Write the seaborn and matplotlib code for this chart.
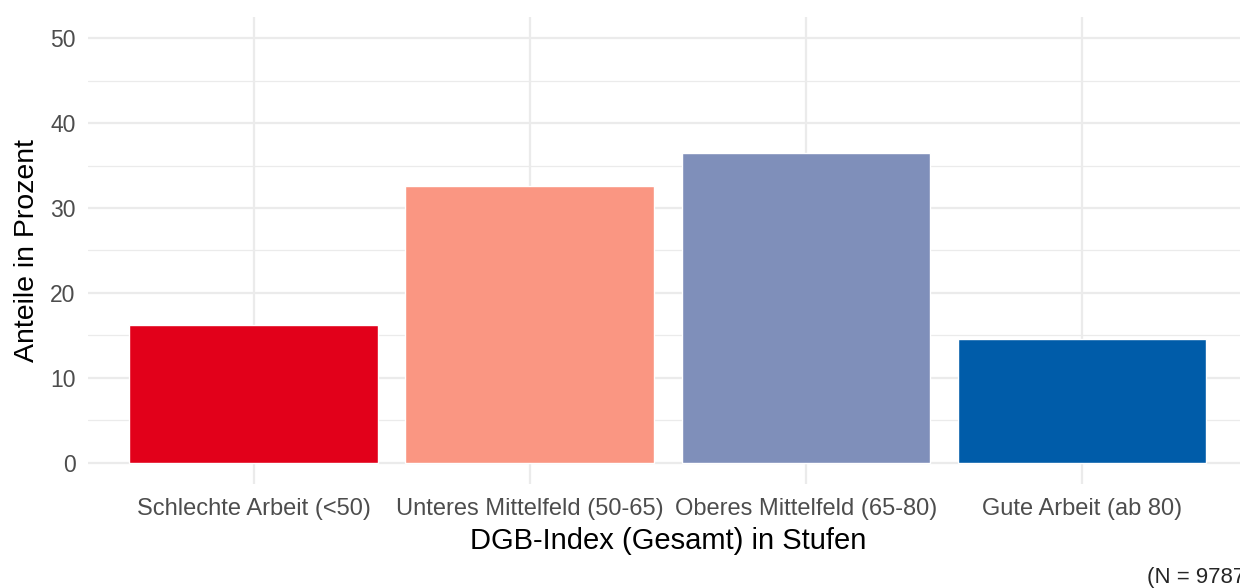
import pandas as pd
import matplotlib.pyplot as plt
import seaborn as sns

# Daten
stufen = ["Schlechte Arbeit (<50)", "Unteres Mittelfeld (50-65)",
          "Oberes Mittelfeld (65-80)", "Gute Arbeit (ab 80)"]
anteile = [16.2, 32.6, 36.5, 14.6]
farben = ["#E2001A", "#FA9682", "#7F8FBA", "#005CA9"]

df = pd.DataFrame({"stufe": stufen, "anteil": anteile})

sns.set_theme(style="whitegrid")
plt.rcParams['font.family'] = ['Liberation Sans', 'DejaVu Sans']

fig = plt.figure(figsize=(12.4, 5.88), dpi=100)
ax = fig.add_axes([0.071, 0.177, 0.935, 0.794])

sns.barplot(data=df, x="stufe", y="anteil", hue="stufe", palette=farben,
            width=0.9, legend=False, ax=ax, saturation=1, zorder=3)

ax.set_xlim(-0.6, 3.6)
ax.set_ylim(-2.5, 52.5)
ax.set_yticks([0, 10, 20, 30, 40, 50])
ax.set_yticks([5, 15, 25, 35, 45], minor=True)

# Gitter im ggplot-Stil
ax.grid(which="major", color="#EBEBEB", linewidth=1.6, zorder=0)
ax.grid(which="minor", axis="y", color="#EBEBEB", linewidth=0.9, zorder=0)
ax.set_axisbelow(True)
for s in ax.spines.values():
    s.set_visible(False)
ax.tick_params(axis="x", length=0, labelsize=17, labelcolor="#4D4D4D", pad=10)
ax.tick_params(axis="y", length=0, labelsize=16.5, labelcolor="#4D4D4D", pad=9)

ax.set_xlabel("DGB-Index (Gesamt) in Stufen", fontsize=21, color="black", labelpad=5)
ax.set_ylabel("Anteile in Prozent", fontsize=20.5, color="black", labelpad=7)

fig.text(1147 / 1240, 1 - 577 / 588, "(N = 9787)", fontsize=16, va="center", ha="left")

plt.savefig("out.png", dpi=100)
